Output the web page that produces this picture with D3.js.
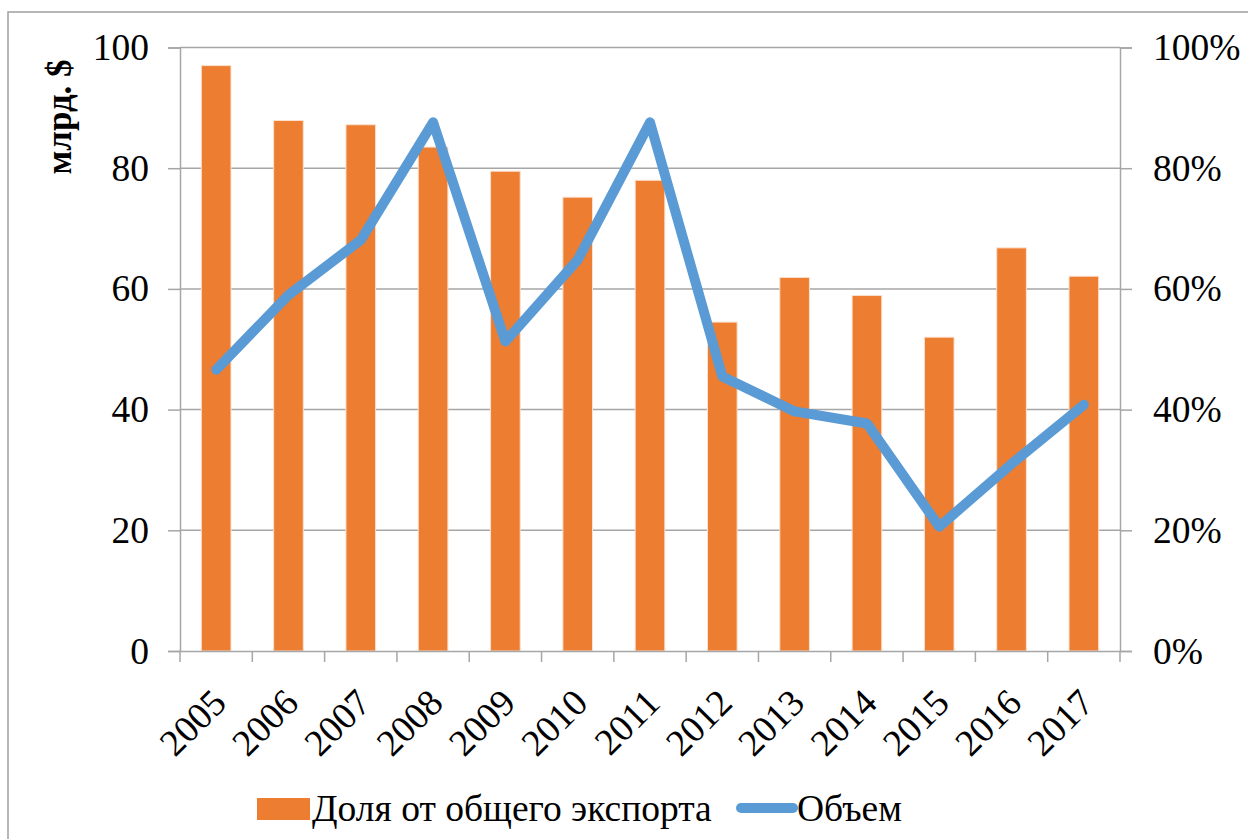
<!DOCTYPE html>
<html>
<head>
<meta charset="utf-8">
<script src="https://cdn.jsdelivr.net/npm/d3@7"></script>
<style>
    html, body { margin: 0; padding: 0; background: #fff; }
    svg { display: block; font-family: 'Liberation Serif', 'Times New Roman', serif; }
</style>
</head>
<body>
<svg id="chart" width="1248" height="839"></svg>
<script>

let years = ['2005', '2006', '2007', '2008', '2009', '2010', '2011',
             '2012', '2013', '2014', '2015', '2016', '2017'];

// share of total export, percent (right axis)
let share = [97.0, 87.9, 87.2, 83.5, 79.5, 75.2, 78.0,
             54.5, 61.9, 58.9, 52.0, 66.8, 62.1];

// volume, bln $ (left axis)
let volume = [46.6, 59.0, 68.1, 87.6, 51.3, 64.8, 87.6,
              45.5, 39.7, 37.7, 20.6, 31.0, 40.8];

let left_ticks = [0, 20, 40, 60, 80, 100],
    right_ticks = [0, 0.2, 0.4, 0.6, 0.8, 1.0];

let series_names = ['Доля от общего экспорта', 'Объем'];


function draw_chart (svg) {

    let left = 180,
        right = 1120,
        top = 47.5,
        bottom = 651;

    let font_size = 37.5;

    let orange = '#ED7D31',
        blue = '#5B9BD5',
        grid = '#a6a6a6';

    let x = d3.scaleBand()
        .domain(years)
        .range([left, right]);

    let y_left = d3.scaleLinear()
        .domain([0, 100])
        .range([bottom, top]);

    let y_right = d3.scaleLinear()
        .domain([0, 1])
        .range([bottom, top]);

    let bar_width = x.bandwidth() * 0.41;

    // outer frame
    svg.append('rect')
        .attr('x', 8)
        .attr('y', 12)
        .attr('width', 1260)
        .attr('height', 860)
        .attr('fill', 'none')
        .attr('stroke', '#a0a0a0')
        .attr('stroke-width', 1.5);

    // gridlines + left axis
    let g_left = svg.append('g')
        .attr('transform', 'translate(' + left + ',0)')
        .call(d3.axisLeft(y_left)
            .tickValues(left_ticks)
            .tickSize(12)
            .tickPadding(19));

    g_left.select('.domain')
        .attr('stroke', grid)
        .attr('stroke-width', 1.5);

    g_left.selectAll('.tick line')
        .attr('stroke', grid)
        .attr('stroke-width', 1.5);

    g_left.selectAll('.tick text')
        .attr('font-size', font_size)
        .attr('font-family', 'Liberation Serif, Times New Roman, serif')
        .attr('fill', '#000');

    svg.append('g')
        .selectAll('line')
        .data(left_ticks.filter(d => d > 0))
        .enter()
        .append('line')
        .attr('x1', left)
        .attr('x2', right)
        .attr('y1', d => y_left(d))
        .attr('y2', d => y_left(d))
        .attr('stroke', grid)
        .attr('stroke-width', 1.5);

    // right axis
    let g_right = svg.append('g')
        .attr('transform', 'translate(' + right + ',0)')
        .call(d3.axisRight(y_right)
            .tickValues(right_ticks)
            .tickFormat(d3.format('.0%'))
            .tickSize(12)
            .tickPadding(21));

    g_right.select('.domain')
        .attr('stroke', grid)
        .attr('stroke-width', 1.5);

    g_right.selectAll('.tick line')
        .attr('stroke', grid)
        .attr('stroke-width', 1.5);

    g_right.selectAll('.tick text')
        .attr('font-size', font_size)
        .attr('font-family', 'Liberation Serif, Times New Roman, serif')
        .attr('fill', '#000');

    // bars
    svg.append('g')
        .selectAll('rect')
        .data(share)
        .enter()
        .append('rect')
        .attr('x', (d, i) => x(years[i]) + x.bandwidth() / 2 - bar_width / 2)
        .attr('y', d => y_right(d / 100))
        .attr('width', bar_width)
        .attr('height', d => bottom - y_right(d / 100))
        .attr('fill', orange)
        .attr('stroke', '#fbe1cf')
        .attr('stroke-width', 1);

    // x axis
    let g_bottom = svg.append('g')
        .attr('transform', 'translate(0,' + bottom + ')')
        .call(d3.axisBottom(x)
            .tickSize(0)
            .tickPadding(0));

    g_bottom.select('.domain')
        .attr('stroke', grid)
        .attr('stroke-width', 1.5);

    g_bottom.selectAll('.tick text')
        .attr('font-size', font_size)
        .attr('font-family', 'Liberation Serif, Times New Roman, serif')
        .attr('fill', '#000')
        .attr('text-anchor', 'end')
        .attr('dy', 0)
        .attr('transform', 'translate(12,54) rotate(-45)');

    // category boundary ticks
    svg.append('g')
        .selectAll('line')
        .data(years.concat(['end']))
        .enter()
        .append('line')
        .attr('x1', (d, i) => left + i * x.bandwidth())
        .attr('x2', (d, i) => left + i * x.bandwidth())
        .attr('y1', bottom)
        .attr('y2', bottom + 11)
        .attr('stroke', grid)
        .attr('stroke-width', 1.5);

    // line
    let line = d3.line()
        .x((d, i) => x(years[i]) + x.bandwidth() / 2)
        .y(d => y_left(d));

    svg.append('path')
        .datum(volume)
        .attr('d', line)
        .attr('fill', 'none')
        .attr('stroke', blue)
        .attr('stroke-width', 10)
        .attr('stroke-linejoin', 'round')
        .attr('stroke-linecap', 'round');

    // y axis title
    svg.append('text')
        .attr('transform', 'translate(71,117) rotate(-90)')
        .attr('text-anchor', 'middle')
        .attr('font-size', 35)
        .attr('font-weight', 'bold')
        .text('млрд. $');

    // legend
    let legend = svg.append('g');

    legend.append('rect')
        .attr('x', 257)
        .attr('y', 798)
        .attr('width', 53)
        .attr('height', 22)
        .attr('fill', orange);

    legend.append('text')
        .attr('x', 312)
        .attr('y', 821)
        .attr('font-size', font_size)
        .text(series_names[0]);

    legend.append('line')
        .attr('x1', 741)
        .attr('x2', 793)
        .attr('y1', 808)
        .attr('y2', 808)
        .attr('stroke', blue)
        .attr('stroke-width', 10)
        .attr('stroke-linecap', 'round');

    legend.append('text')
        .attr('x', 797)
        .attr('y', 821)
        .attr('font-size', font_size)
        .text(series_names[1]);

}

draw_chart(d3.select('#chart'));

</script>
</body>
</html>
